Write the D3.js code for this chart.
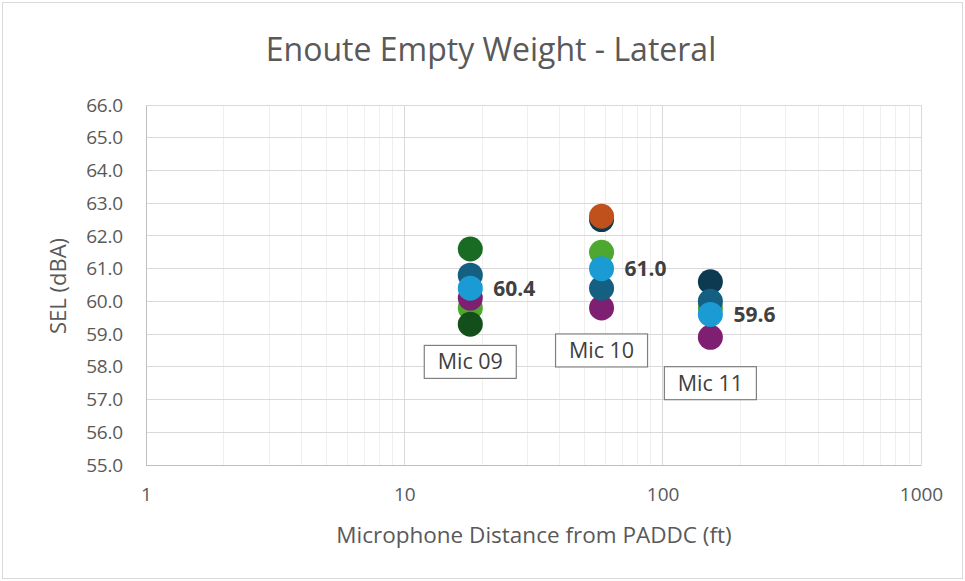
<!DOCTYPE html>
<html>
<head>
<meta charset="utf-8">
<script src="https://cdn.jsdelivr.net/npm/d3@7"></script>
<style>
  html, body { margin: 0; padding: 0; background: #ffffff; }
  svg { display: block; font-family: "Open Sans", Lato, sans-serif; }
</style>
</head>
<body>
<svg id="chart" width="965" height="581"></svg>
<script>
// ---- data ----
const title = "Enoute Empty Weight - Lateral";
const xTitle = "Microphone Distance from PADDC (ft)";
const yTitle = "SEL (dBA)";
const micNames = ["Mic 09", "Mic 10", "Mic 11"];
const micDistances = [18, 58, 153];
const xTicks = [1, 10, 100, 1000];
const yTicks = [55, 56, 57, 58, 59, 60, 61, 62, 63, 64, 65, 66];

// one array of SEL values per run (null = not shown at that mic)
const runNavy      = [null, 62.5, 60.6];
const runOrange    = [null, 62.6, null];
const runTeal      = [60.8, 60.4, 60.0];
const runGreen     = [59.8, 61.5, 59.8];
const runDarkGreen = [61.6, null, null];
const runDeepGreen = [59.3, null, null];
const runPurple    = [60.1, 59.8, 58.9];
const averageSEL   = [60.4, 61.0, 59.6];
const micLabelLevel = [58.15, 58.5, 57.5];

const seriesList = [
  { name: "Navy", values: runNavy, color: "#0c3a50" },
  { name: "Orange", values: runOrange, color: "#c0501c" },
  { name: "Dark green", values: runDarkGreen, color: "#196b24" },
  { name: "Green", values: runGreen, color: "#4ea72e" },
  { name: "Purple", values: runPurple, color: "#7e1f72" },
  { name: "Teal", values: runTeal, color: "#156082" },
  { name: "Deep green", values: runDeepGreen, color: "#124f1b" },
  { name: "Average", values: averageSEL, color: "#1a9bd3" }
];

// ---- layout ----
const svg = d3.select("#chart");
const W = 965, H = 581;
const m = { left: 146, right: 44, top: 105, bottom: 116 };
const FONT = "'Open Sans', Lato, sans-serif";

svg.append("rect").attr("x", 2.5).attr("y", 2.5).attr("width", W - 5).attr("height", H - 5)
  .attr("fill", "#fff").attr("stroke", "#d9d9d9").attr("stroke-width", 1);

const x = d3.scaleLog().domain([1, 1000]).range([m.left, W - m.right]);
const y = d3.scaleLinear().domain([55, 66]).range([H - m.bottom, m.top]);

// minor vertical grid
const minor = [];
for (let d = 1; d < 1000; d *= 10) for (let k = 2; k <= 9; k++) minor.push(d * k);
svg.append("g").selectAll("line").data(minor).join("line")
  .attr("x1", d => x(d)).attr("x2", d => x(d))
  .attr("y1", y(66)).attr("y2", y(55))
  .attr("stroke", "#efefef").attr("stroke-width", 1).attr("shape-rendering", "crispEdges");

// major horizontal grid
svg.append("g").selectAll("line").data(yTicks).join("line")
  .attr("x1", x(1)).attr("x2", x(1000))
  .attr("y1", d => y(d)).attr("y2", d => y(d))
  .attr("stroke", "#d9d9d9").attr("stroke-width", 1).attr("shape-rendering", "crispEdges");

// major vertical grid
svg.append("g").selectAll("line").data(xTicks).join("line")
  .attr("x1", d => x(d)).attr("x2", d => x(d))
  .attr("y1", y(66)).attr("y2", y(55))
  .attr("stroke", "#d9d9d9").attr("stroke-width", 1).attr("shape-rendering", "crispEdges");

// axes
const yAxis = d3.axisLeft(y).tickValues(yTicks).tickFormat(d3.format(".1f")).tickSize(0).tickPadding(23);
const gy = svg.append("g").attr("transform", `translate(${m.left},0)`).call(yAxis);
gy.select(".domain").attr("stroke", "#bfbfbf");
gy.selectAll("text").attr("fill", "#595959").attr("font-size", 19).attr("font-family", FONT)
  .attr("letter-spacing", -0.2);

const xAxis = d3.axisBottom(x).tickValues(xTicks).tickFormat(d3.format("d")).tickSize(0).tickPadding(23);
const gx = svg.append("g").attr("transform", `translate(0,${H - m.bottom})`).call(xAxis);
gx.select(".domain").attr("stroke", "#bfbfbf");
gx.selectAll("text").attr("fill", "#595959").attr("font-size", 19).attr("font-family", FONT);

// titles
svg.append("text").attr("x", 491).attr("y", 61).attr("text-anchor", "middle")
  .attr("font-size", 32).attr("fill", "#595959").attr("font-family", FONT).text(title);
svg.append("text").attr("x", 534).attr("y", 543).attr("text-anchor", "middle")
  .attr("font-size", 22.5).attr("fill", "#595959").attr("font-family", FONT).text(xTitle);
svg.append("text").attr("transform", `translate(66,${286}) rotate(-90)`).attr("text-anchor", "middle")
  .attr("font-size", 22).attr("fill", "#595959").attr("font-family", FONT).text(yTitle);

// points
const pts = svg.append("g");
seriesList.forEach(s => {
  pts.append("g").selectAll("circle")
    .data(s.values.map((v, i) => ({ v, d: micDistances[i] })).filter(p => p.v != null))
    .join("circle")
    .attr("cx", p => x(p.d)).attr("cy", p => y(p.v)).attr("r", 12.5)
    .attr("fill", s.color);
});

// average value labels
svg.append("g").selectAll("text").data(averageSEL).join("text")
  .attr("x", (v, i) => x(micDistances[i]) + 23)
  .attr("y", v => y(v) + 7.5)
  .attr("font-size", 21).attr("font-weight", 700).attr("fill", "#404040")
  .attr("font-family", FONT)
  .text(v => v.toFixed(1));

// mic name labels (boxed)
const ml = svg.append("g").selectAll("g").data(micNames).join("g")
  .attr("transform", (n, i) => `translate(${x(micDistances[i])},${y(micLabelLevel[i])})`);
ml.append("rect").attr("x", -46).attr("y", -16.5).attr("width", 92).attr("height", 33)
  .attr("fill", "#fff").attr("stroke", "#7f7f7f").attr("stroke-width", 1.2);
ml.append("text").attr("text-anchor", "middle").attr("y", 7.5)
  .attr("font-size", 21.5).attr("fill", "#404040").attr("font-family", FONT)
  .text(n => n);
</script>
</body>
</html>
